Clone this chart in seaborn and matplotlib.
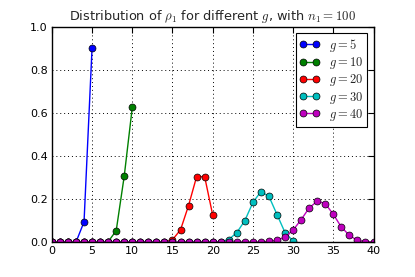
import matplotlib
matplotlib.use("Agg")
import matplotlib.pyplot as plt
import seaborn as sns
import pandas as pd

g_values = [5, 10, 20, 30, 40]
colors = ["#0000ff", "#008000", "#ff0000", "#00bfbf", "#bf00bf"]
p_g5 = [0, 0, 0, 0, 0.094, 0.904]
p_g10 = [0, 0, 0, 0, 0, 0, 0, 0.002, 0.053, 0.307, 0.626]
p_g20 = [0, 0, 0, 0, 0, 0, 0, 0, 0, 0, 0, 0, 0, 0, 0,
         0.011, 0.057, 0.170, 0.304, 0.304, 0.126]
p_g30 = [0, 0, 0, 0, 0, 0, 0, 0, 0, 0, 0, 0, 0, 0, 0, 0, 0, 0, 0, 0, 0,
         0.002, 0.012, 0.044, 0.100, 0.184, 0.235, 0.212, 0.128, 0.044, 0.005]
p_g40 = [0, 0, 0, 0, 0, 0, 0, 0, 0, 0, 0, 0, 0, 0, 0, 0, 0, 0, 0, 0, 0,
         0, 0, 0, 0, 0, 0, 0.003, 0.009, 0.023, 0.056, 0.104, 0.159, 0.190,
         0.179, 0.129, 0.070, 0.031, 0.008, 0.002, 0.001]
series = [p_g5, p_g10, p_g20, p_g30, p_g40]
title = r"Distribution of $\rho_1$ for different $g$, with $n_1 = 100$"

rows = []
for g, vals in zip(g_values, series):
    for k, v in enumerate(vals):
        rows.append({"k": k, "p": v, "g": f"$g = {g}$"})
df = pd.DataFrame(rows)

sns.set_style("white")
plt.rcParams["font.family"] = ["DejaVu Sans"]
plt.rcParams["mathtext.fontset"] = "cm"
plt.rcParams["xtick.direction"] = "in"
plt.rcParams["ytick.direction"] = "in"

fig = plt.figure(figsize=(4.15, 2.77), dpi=100)
ax = fig.add_axes([0.125, 0.126, 0.775, 0.777])

sns.lineplot(data=df, x="k", y="p", hue="g", palette=colors, marker="o",
             markersize=5, markeredgecolor="black", markeredgewidth=0.5,
             linewidth=1.0, ax=ax, legend=True)

ax.set_xlim(0, 40)
ax.set_ylim(0, 1.0)
ax.set_xticks([0, 5, 10, 15, 20, 25, 30, 35, 40])
ax.set_yticks([0.0, 0.2, 0.4, 0.6, 0.8, 1.0])
ax.set_yticklabels(["0.0", "0.2", "0.4", "0.6", "0.8", "1.0"])
ax.set_xlabel("")
ax.set_ylabel("")
ax.grid(True, color="black", linestyle=(0, (1, 3)), linewidth=0.7)
ax.tick_params(labelsize=8, length=4, width=0.8, top=True, right=True,
               colors="black", pad=3)
for s in ax.spines.values():
    s.set_color("black")
    s.set_linewidth(1.0)
ax.set_title(title, fontsize=9.3, pad=5)

leg = ax.legend(loc="upper right", fontsize=9, numpoints=2, fancybox=False,
                framealpha=1, edgecolor="black", handlelength=1.6,
                handletextpad=0.8, borderpad=0.3, labelspacing=0.1,
                borderaxespad=0.5)
leg.get_frame().set_linewidth(0.8)

fig.savefig("out.png", dpi=100)
